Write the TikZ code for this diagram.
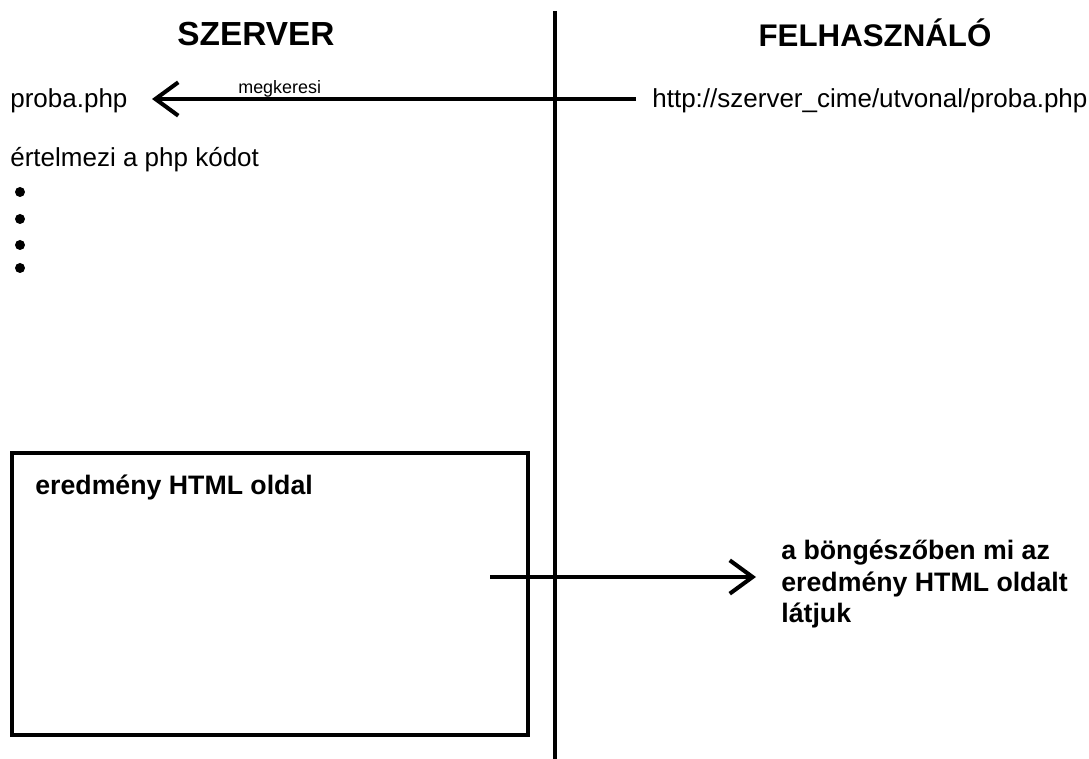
\documentclass[tikz,border=0pt]{standalone}
\usepackage{fontspec}
\setmainfont{Liberation Sans}
\usetikzlibrary{arrows.meta}
\usetikzlibrary{positioning}
\tikzstyle{heading} = [inner sep=0, anchor=base, font=\fontsize{19}{22}\selectfont\bfseries]
\tikzstyle{plaintext} = [inner sep=0, anchor=base west, font=\fontsize{14.8}{17}\selectfont]
\tikzstyle{boldtext} = [inner sep=0, anchor=base west, align=left, font=\fontsize{15.2}{17.9}\selectfont\bfseries]
\tikzstyle{smalltext} = [inner sep=0, anchor=base west, font=\fontsize{10.2}{12}\selectfont]
\tikzstyle{thickline} = [line width=2.3pt]
\tikzstyle{barbarrow} = [thickline, -{Straight Barb[length=13pt, width=19pt]}]
\tikzstyle{dotnode} = [circle, fill, inner sep=0, minimum size=0.2cm]
\tikzstyle{pagebox} = [draw, thickline, minimum width=10.32cm, minimum height=5.64cm, inner sep=0]

\begin{document}
\begin{tikzpicture}[x=0.02cm, y=-0.02cm]
\useasboundingbox (0,0) rectangle (1089,759);
% dividing line
\coordinate (divtop) at (555,11);
\coordinate (divbot) at (555,759);
\draw[thickline] (divtop) -- (divbot);

\node[heading] (szerver) at (256,46) {SZERVER};
\node[heading, font=\fontsize{17.8}{21}\selectfont\bfseries] (felhasznalo) at (875,47) {FELHASZNÁLÓ};

% request
\node[plaintext] (proba) at (10,108) {proba.php};
\node[plaintext] (url) at (652,108) {http://szerver\_cime/utvonal/proba.php};
\node[smalltext] (megkeresi) at (238,94) {megkeresi};
\coordinate (reqfrom) at (636,99);
\coordinate (reqto) at (152,99);
\draw[barbarrow] (reqfrom) -- (reqto);

\node[plaintext] (ertelmezi) at (10,167) {értelmezi a php kódot};
\foreach \y [count=\i] in {192,219,245,268}
    \node[dotnode] (dot\i) at (20,\y) {};

% result page
\node[pagebox] (htmlpage) at (270,594) {};
\node[boldtext] (pagetitle) at (35,495) {eredmény HTML oldal};
\coordinate (respfrom) at (490,577);
\coordinate (respto) at (756,577);
\draw[barbarrow] (respfrom) -- (respto);
\node[boldtext, anchor=north west] (latjuk) at (781,540) {a böngészőben mi az\\eredmény HTML oldalt\\látjuk};
\end{tikzpicture}
\end{document}
